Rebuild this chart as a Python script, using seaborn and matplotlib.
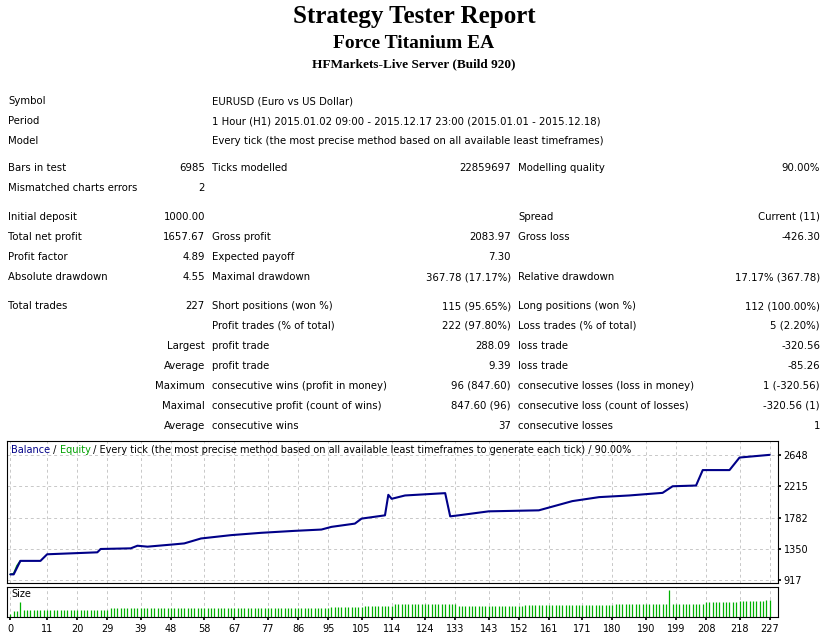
import numpy as np
import pandas as pd
import matplotlib
matplotlib.use("Agg")
import matplotlib.pyplot as plt
import seaborn as sns

sns.set_theme(style="white")
plt.rcParams.update({"text.color": "black", "xtick.color": "black", "ytick.color": "black",
                     "axes.labelcolor": "black"})

# balance curve (trade number, balance)
trade_no = [0, 1, 3, 9, 11, 26, 27, 36, 38, 41, 49, 52, 57, 66, 75, 85, 93, 96, 103, 105,
            112, 113, 114, 118, 130, 131.5, 134, 143, 158, 168, 176, 185, 195, 198, 205, 207,
            215, 218, 227]
balance = [1000, 1000, 1186, 1186, 1277, 1304, 1350, 1359, 1395, 1382, 1414, 1427, 1495, 1541,
           1573, 1600, 1618, 1655, 1700, 1769, 1814, 2097, 2042, 2088, 2120, 1800, 1814, 1869,
           1883, 2010, 2065, 2088, 2124, 2215, 2225, 2438, 2438, 2611, 2648]
equity_trade = [0, 1, 2, 3]
equity = [1000, 1010, 1120, 1186]

# trade sizes as runs (height, count)
size_value = [10, 20, 50, 23, 28, 31, 33, 36, 43, 37, 39, 41, 88, 42, 49, 53, 56]
size_count = [1, 2, 1, 26, 29, 37, 10, 9, 19, 20, 27, 16, 1, 10, 10, 8, 2]

x_ticks = [0, 11, 20, 29, 39, 48, 58, 67, 77, 86, 95, 105, 114, 124, 133, 143, 152, 161,
           171, 180, 190, 199, 208, 218, 227]
y_ticks = [917, 1350, 1782, 2215, 2648]

rows = [
    (101, "Symbol", "", "EURUSD (Euro vs US Dollar)", "", "", ""),
    (121, "Period", "", "1 Hour (H1) 2015.01.02 09:00 - 2015.12.17 23:00 (2015.01.01 - 2015.12.18)", "", "", ""),
    (141, "Model", "", "Every tick (the most precise method based on all available least timeframes)", "", "", ""),
    (168, "Bars in test", "6985", "Ticks modelled", "22859697", "Modelling quality", "90.00%"),
    (188, "Mismatched charts errors", "2", "", "", "", ""),
    (217, "Initial deposit", "1000.00", "", "", "Spread", "Current (11)"),
    (237, "Total net profit", "1657.67", "Gross profit", "2083.97", "Gross loss", "-426.30"),
    (257, "Profit factor", "4.89", "Expected payoff", "7.30", "", ""),
    (277, "Absolute drawdown", "4.55", "Maximal drawdown", "367.78 (17.17%)", "Relative drawdown", "17.17% (367.78)"),
    (306, "Total trades", "227", "Short positions (won %)", "115 (95.65%)", "Long positions (won %)", "112 (100.00%)"),
    (326, "", "", "Profit trades (% of total)", "222 (97.80%)", "Loss trades (% of total)", "5 (2.20%)"),
    (346, "", "Largest", "profit trade", "288.09", "loss trade", "-320.56"),
    (366, "", "Average", "profit trade", "9.39", "loss trade", "-85.26"),
    (386, "", "Maximum", "consecutive wins (profit in money)", "96 (847.60)", "consecutive losses (loss in money)", "1 (-320.56)"),
    (406, "", "Maximal", "consecutive profit (count of wins)", "847.60 (96)", "consecutive loss (count of losses)", "-320.56 (1)"),
    (426, "", "Average", "consecutive wins", "37", "consecutive losses", "1"),
]

W, H = 827, 635
fig = plt.figure(figsize=(W / 100, H / 100), dpi=100)
fig.patch.set_facecolor("white")


def fy(py):
    return 1 - py / H


serif = "Liberation Serif"
fig.text(414 / W, fy(16), "Strategy Tester Report", ha="center", va="center",
         fontsize=18, fontweight="bold", family=serif)
fig.text(414 / W, fy(43), "Force Titanium EA", ha="center", va="center",
         fontsize=14, fontweight="bold", family=serif)
fig.text(414 / W, fy(64), "HFMarkets-Live Server (Build 920)", ha="center", va="center",
         fontsize=9.5, fontweight="bold", family=serif)

tf = dict(fontsize=7.3, family="DejaVu Sans", va="center", color="black")
for py, l1, v1, l2, v2, l3, v3 in rows:
    fig.text(8 / W, fy(py), l1, ha="left", **tf)
    fig.text(205 / W, fy(py), v1, ha="right", **tf)
    fig.text(212 / W, fy(py), l2, ha="left", **tf)
    fig.text(511 / W, fy(py), v2, ha="right", **tf)
    fig.text(518 / W, fy(py), l3, ha="left", **tf)
    fig.text(820 / W, fy(py), v3, ha="right", **tf)

# main balance chart
ax = fig.add_axes([7 / W, fy(583), 771 / W, 142 / H])
ax_sz = fig.add_axes([7 / W, fy(617), 771 / W, 30 / H])

bal_df = pd.DataFrame({"trade": trade_no, "balance": balance})
eq_df = pd.DataFrame({"trade": equity_trade, "equity": equity})
sns.lineplot(data=eq_df, x="trade", y="equity", ax=ax, color="#00a000", lw=1.2)
sns.lineplot(data=bal_df, x="trade", y="balance", ax=ax, color="#000088", lw=1.5)
ax.set_xlim(-1, 229.5)
ax.set_ylim(881, 2839)
ax.set_xticks(x_ticks)
ax.set_yticks(y_ticks)
ax.grid(True, color="#c8c8c8", ls=(0, (3, 3)), lw=0.7)
ax.tick_params(labelbottom=False, bottom=False, left=False, labelleft=False,
               right=True, labelright=True, length=2, labelsize=7, pad=2)
ax.set_xlabel("")
ax.set_ylabel("")
for s in ax.spines.values():
    s.set_color("black")
    s.set_linewidth(0.8)

t = ax.text(4 / 771, 0.97, "Balance", transform=ax.transAxes, color="#000088",
            fontsize=7, va="top", ha="left")
t2 = ax.annotate(" / ", xy=(1, 0), xycoords=t, va="bottom", fontsize=7, color="black")
t3 = ax.annotate("Equity", xy=(1, 0), xycoords=t2, va="bottom", fontsize=7, color="#00a000")
ax.annotate(" / Every tick (the most precise method based on all available least timeframes to generate each tick) / 90.00%",
            xy=(1, 0), xycoords=t3, va="bottom", fontsize=7, color="black")

# size panel
sizes = np.repeat(size_value, size_count)
sz_df = pd.DataFrame({"trade": np.arange(len(sizes)), "size": sizes})
ax_sz.vlines(sz_df["trade"], 0, sz_df["size"], color="#00b000", lw=0.9)
ax_sz.set_xlim(-1, 229.5)
ax_sz.set_ylim(0, 98)
ax_sz.set_xticks(x_ticks)
ax_sz.set_yticks([])
ax_sz.grid(True, axis="x", color="#c8c8c8", ls=(0, (3, 3)), lw=0.7)
ax_sz.tick_params(bottom=True, length=2, labelsize=7, pad=3)
ax_sz.text(4 / 771, 0.92, "Size", transform=ax_sz.transAxes, fontsize=7, va="top")
for s in ax_sz.spines.values():
    s.set_color("black")
    s.set_linewidth(0.8)

fig.savefig("out.png", dpi=100)
